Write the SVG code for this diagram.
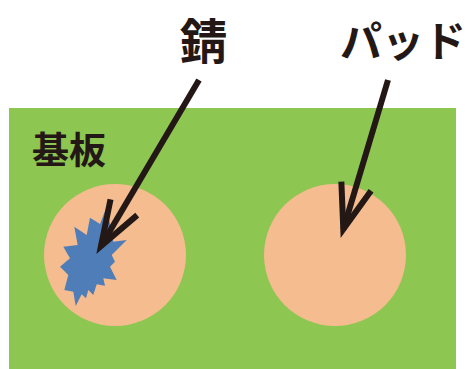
<svg xmlns="http://www.w3.org/2000/svg" width="467" height="369" viewBox="0 0 467 369">
<style>
.lbl{font-family:"Noto Sans CJK JP","Noto Sans",sans-serif;font-weight:bold;fill:#231815}
.pad{fill:#f4bc8f}
.conn{fill:none;stroke:#231815;stroke-width:6}
</style>
<defs>
<marker id="chev" markerUnits="userSpaceOnUse" markerWidth="70" markerHeight="50" viewBox="-55 -25 70 50" refX="0" refY="0" orient="auto" overflow="visible">
<path d="M-45,-15.5 L0,0 L-45,15.5" fill="none" stroke="#231815" stroke-width="6" stroke-linejoin="miter"/>
</marker>
</defs>
<g id="board">
<rect x="9" y="108" width="447" height="261" fill="#8dc651"/>
<text class="lbl" x="32" y="164" font-size="37">基板</text>
</g>
<g id="pad-left">
<circle class="pad" cx="115" cy="255" r="71"/>
</g>
<g id="rust">
<polygon fill="#4f7db8" points="106.7,206.7 100,224 90,217.7 86.7,235 74.3,226.7 77.7,245 63.3,246.7 70,258.3 60,266.7 68.3,275 64.3,290 73.3,291.7 75.7,306 81.7,294.3 86,298.3 88.3,290 93.3,295 96.7,284.3 105,285.7 103.3,278.3 116.7,280 110,266.7 115,261.7 111.7,255 126.7,240 113.3,241.7"/>
</g>
<g id="pad-right">
<circle class="pad" cx="335" cy="255" r="71"/>
</g>
<g id="label-rust">
<text class="lbl" x="203.5" y="59" font-size="48" text-anchor="middle">錆</text>
</g>
<g id="label-pad">
<text class="lbl" x="403" y="57" font-size="42" text-anchor="middle">パッド</text>
</g>
<g id="connectors">
<path class="conn" d="M199,80 L101,246" marker-end="url(#chev)"/>
<path class="conn" d="M388,80 L343.3,229.3" marker-end="url(#chev)"/>
</g>
</svg>
